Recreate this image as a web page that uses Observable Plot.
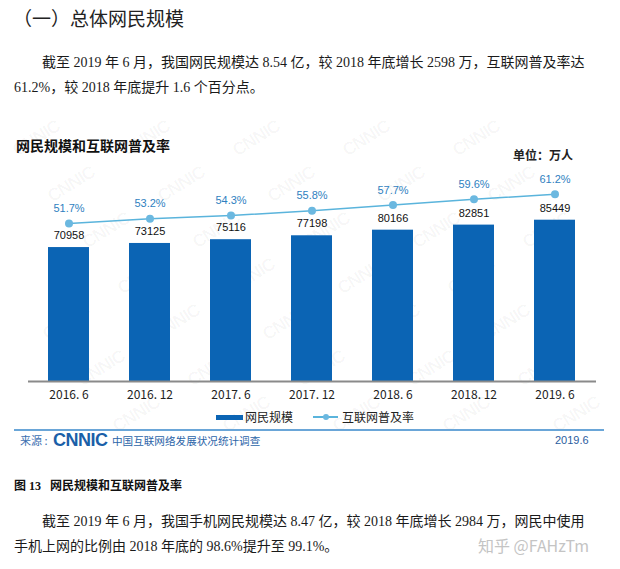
<!DOCTYPE html>
<html>
<head>
<meta charset="utf-8">
<script src="https://cdn.jsdelivr.net/npm/d3@7"></script>
<script src="https://cdn.jsdelivr.net/npm/@observablehq/plot@0.6"></script>
<style>
  html, body { margin: 0; padding: 0; background: #fff; }
  #page { position: relative; width: 620px; height: 569px; overflow: hidden; background: #fff; }
  .t { position: absolute; white-space: nowrap; color: #1a1a1a; }
  .body { font-family: "Liberation Serif", "Noto Sans CJK SC", serif; font-size: 14px; line-height: 25px; }
  .wm { position: absolute; font-family: "Liberation Sans", sans-serif; font-weight: bold; font-size: 18px; line-height: 20px; color: rgba(0,0,0,0.035); transform: rotate(-32deg); letter-spacing: -1px; }
  #chart { position: absolute; left: 0; top: 120px; }
</style>
</head>
<body>
<div id="page">
  <div id="wms"></div>
  <div class="t" style="left:13px; top:6px; font-family:'Noto Sans CJK SC'; font-size:19px; line-height:24px; color:#222;">（一）总体网民规模</div>
  <div class="t body" style="left:42px; top:49.5px;">截至 2019 年 6 月，我国网民规模达 8.54 亿，较 2018 年底增长 2598 万，互联网普及率达</div>
  <div class="t body" style="left:14px; top:74.5px;">61.2%，较 2018 年底提升 1.6 个百分点。</div>

  <div class="t" style="left:16px; top:136px; font-family:'Noto Sans CJK SC'; font-weight:700; font-size:14px; line-height:18px; color:#111;">网民规模和互联网普及率</div>
  <div class="t" style="left:513px; top:147px; font-family:'Noto Sans CJK SC'; font-weight:700; font-size:12px; line-height:16px; color:#222;">单位：万人</div>

  <div id="chart"></div>

  <div id="legend" style="position:absolute; left:0; top:408px; width:620px; height:18px;">
    <div style="position:absolute; left:216px; top:6.5px; width:27px; height:5px; background:#0b64b4;"></div>
    <div class="t" style="left:245px; top:0px; font-family:'Noto Sans CJK SC'; font-size:12px; line-height:18px; color:#222;">网民规模</div>
    <div style="position:absolute; left:313px; top:8px; width:25px; height:1.5px; background:#5ab4dc;"></div>
    <div style="position:absolute; left:323px; top:5.75px; width:6px; height:6px; border-radius:50%; background:#6bb8e0;"></div>
    <div class="t" style="left:342px; top:0px; font-family:'Noto Sans CJK SC'; font-size:12px; line-height:18px; color:#222;">互联网普及率</div>
  </div>

  <div style="position:absolute; left:14px; top:429px; width:590px; height:2px; background:#6aa6d8;"></div>
  <div class="t" style="left:20px; top:433px; font-family:'Noto Sans CJK SC'; font-size:11px; line-height:15px; color:#3b6fb0;">来源 :</div>
  <div class="t" style="left:53px; top:430px; font-family:'Liberation Sans'; font-weight:bold; font-size:18px; line-height:20px; color:#1a5fa8; letter-spacing:-0.5px;">CNNIC</div>
  <div class="t" style="left:112px; top:432.5px; font-family:'Noto Sans CJK SC'; font-size:10.6px; line-height:15px; color:#2b64a8;">中国互联网络发展状况统计调查</div>
  <div class="t" style="left:555px; top:433px; font-family:'Liberation Sans'; font-size:11px; line-height:15px; color:#2b5da0;">2019.6</div>

  <div class="t" style="left:14px; top:478px; font-family:'Liberation Serif','Noto Sans CJK SC'; font-weight:700; font-size:12px; line-height:16px; color:#111;">图 13&nbsp;&nbsp;&nbsp;网民规模和互联网普及率</div>
  <div class="t body" style="left:42px; top:508.5px;">截至 2019 年 6 月，我国手机网民规模达 8.47 亿，较 2018 年底增长 2984 万，网民中使用</div>
  <div class="t body" style="left:14px; top:533.5px;">手机上网的比例由 2018 年底的 98.6%提升至 99.1%。</div>
  <div class="t" style="left:478px; top:534px; font-family:'Noto Sans CJK SC'; font-size:16px; line-height:22px; color:#c4c4c4;">知乎 @FAHzTm</div>
</div>
<script>
// ---- data ----
const periods = ["2016. 6", "2016. 12", "2017. 6", "2017. 12", "2018. 6", "2018. 12", "2019. 6"];
const users = [70958, 73125, 75116, 77198, 80166, 82851, 85449]; // 万人
const rates = [51.7, 53.2, 54.3, 55.8, 57.7, 59.6, 61.2];       // %

// secondary axis: percent mapped onto the bar axis (0% shares the baseline)
const RATE_TO_USERS = 1620;

const data = periods.map((p, i) => ({ period: p, users: users[i], rate: rates[i] }));

// faint background watermarks (decoration only), laid along up-right diagonals
const wms = document.getElementById("wms");
for (let r = 0; r < 7; r++) {
  for (let c = -4; c < 8; c++) {
    const left = c * 110 + ((r * -75) % 110 + 110) % 110 + 10;
    if (left < 8 || left + 62 > 612) continue;
    const el = document.createElement("div");
    el.className = "wm";
    el.textContent = "CNNIC";
    el.style.left = left + "px";
    el.style.top = (128 + r * 46) + "px";
    wms.appendChild(el);
  }
}

const chart = Plot.plot({
  width: 620,
  height: 292,
  marginLeft: 7,
  marginRight: 4,
  marginTop: 15.6,
  marginBottom: 31,
  x: { domain: periods, padding: 0.5, label: null, tickSize: 0, tickPadding: 9 },
  y: { domain: [0, 130000], axis: null },
  style: { background: "transparent", fontFamily: "'Noto Sans CJK SC', sans-serif", fontSize: "12px", color: "#222", overflow: "visible" },
  marks: [
    Plot.barY(data, { x: "period", y: "users", fill: "#0b64b4" }),
    Plot.ruleY([0], { stroke: "#8a8a8a", strokeWidth: 2, insetLeft: 21, insetRight: 20 }),
    Plot.text(data, { x: "period", y: "users", text: d => String(d.users), dy: -12, fill: "#111", fontSize: 11, fontFamily: "Liberation Sans" }),
    Plot.line(data, { x: "period", y: d => d.rate * RATE_TO_USERS, stroke: "#5ab4dc", strokeWidth: 1.5 }),
    Plot.dot(data, { x: "period", y: d => d.rate * RATE_TO_USERS, r: 4, fill: "#6bb8e0", stroke: "none" }),
    Plot.text(data, { x: "period", y: d => d.rate * RATE_TO_USERS, text: d => d.rate.toFixed(1) + "%", dy: -15, fill: "#2f7fbf", fontSize: 11, fontFamily: "Liberation Sans" })
  ]
});
document.getElementById("chart").appendChild(chart);
</script>
</body>
</html>
